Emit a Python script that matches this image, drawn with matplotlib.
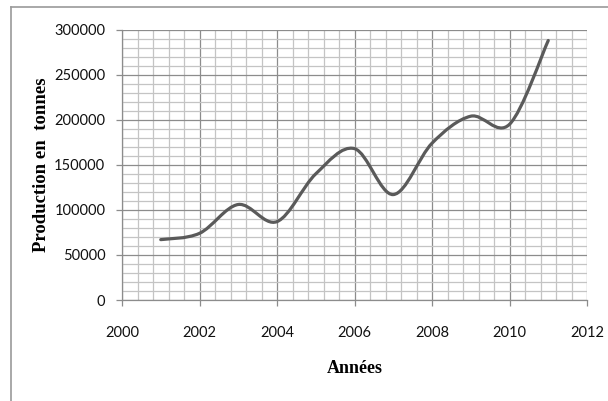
import matplotlib
matplotlib.use("Agg")
import matplotlib.pyplot as plt
import numpy as np
from matplotlib.path import Path
from matplotlib.patches import PathPatch
from matplotlib.lines import Line2D
from matplotlib.ticker import MultipleLocator

# data
years = [2001, 2002, 2003, 2004, 2005, 2006, 2007, 2008, 2009, 2010, 2011]
production = [67000, 74000, 106000, 87000, 140000, 168000, 117000,
              174000, 204000, 195000, 288000]

x_ticks = [2000, 2002, 2004, 2006, 2008, 2010, 2012]
y_ticks = [0, 50000, 100000, 150000, 200000, 250000, 300000]


def smooth_path(xs, ys):
    """Excel-like smoothed line: Catmull-Rom segments as cubic Beziers."""
    pts = np.column_stack([xs, ys]).astype(float)
    n = len(pts)
    verts = [pts[0]]
    codes = [Path.MOVETO]
    for i in range(n - 1):
        p0 = pts[i - 1] if i > 0 else pts[i]
        p1, p2 = pts[i], pts[i + 1]
        p3 = pts[i + 2] if i + 2 < n else pts[i + 1]
        c1 = p1 + (p2 - p0) / 6.0
        c2 = p2 - (p3 - p1) / 6.0
        verts += [c1, c2, p2]
        codes += [Path.CURVE4] * 3
    return Path(verts, codes)


fig = plt.figure(figsize=(6.08, 4.01), dpi=100)
ax = fig.add_axes([122 / 608, 1 - 300 / 401, 465 / 608, 270.3 / 401])

ax.add_patch(PathPatch(smooth_path(years, production), facecolor="none",
                       edgecolor="#5a5a5a", linewidth=2.3,
                       capstyle="round", joinstyle="round", zorder=3))

ax.set_xlim(2000, 2012)
ax.set_ylim(0, 300000)
ax.set_xticks(x_ticks)
ax.set_yticks(y_ticks)
ax.xaxis.set_minor_locator(MultipleLocator(0.4))
ax.yaxis.set_minor_locator(MultipleLocator(10000))

ax.grid(which="major", color="#8c8c8c", linewidth=0.9)
ax.grid(which="minor", color="#c4c4c4", linewidth=0.9)
ax.set_axisbelow(True)

for side in ["top", "right"]:
    ax.spines[side].set_visible(False)
for side in ["left", "bottom"]:
    ax.spines[side].set_color("#8c8c8c")
    ax.spines[side].set_linewidth(0.9)

ax.tick_params(which="minor", length=0)
ax.tick_params(which="major", length=4, width=0.9, color="#8c8c8c",
               labelsize=10.5, labelcolor="#111111")
ax.tick_params(axis="x", pad=15)
ax.tick_params(axis="y", pad=8)
for lab in ax.get_xticklabels() + ax.get_yticklabels():
    lab.set_family("Lato")

ax.set_ylabel("Production en  tonnes", family="Liberation Serif",
              fontweight="bold", fontsize=13.5, labelpad=3)
ax.set_xlabel("Années", family="Liberation Serif", fontweight="bold",
              fontsize=13, labelpad=14)

# outer frame of the picture
fx, fy = 11 / 608, 1 - 7 / 401
fig.add_artist(Line2D([fx, fx], [0, fy], transform=fig.transFigure,
                      color="#9a9a9a", linewidth=1.2))
fig.add_artist(Line2D([fx, 1], [fy, fy], transform=fig.transFigure,
                      color="#9a9a9a", linewidth=1.2))

fig.savefig("out.png", dpi=100)
